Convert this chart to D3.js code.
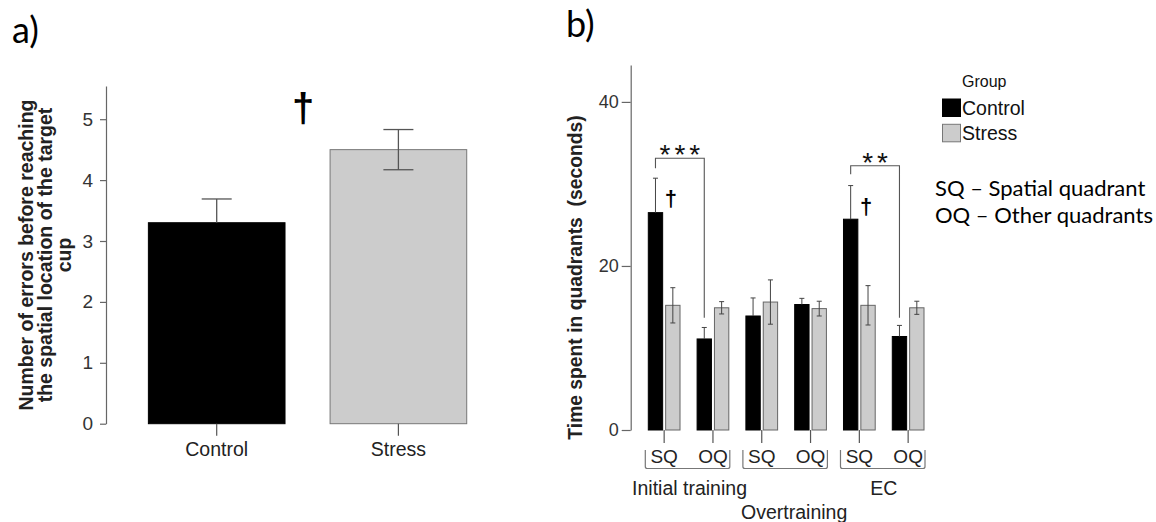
<!DOCTYPE html>
<html>
<head>
<meta charset="utf-8">
<script src="https://cdn.jsdelivr.net/npm/d3@7"></script>
<style>
  html, body { margin: 0; padding: 0; background: #fff; }
  svg { display: block; }
  text { font-family: "Liberation Sans", Arial, sans-serif; }
</style>
</head>
<body>
<svg id="chart" width="1156" height="522"></svg>
<script>
// ---------- Data ----------
// Panel a
const groupsA = ["Control", "Stress"];
const errorsMean = [3.3, 4.5];
const errorsSE = [0.39, 0.33];
const ticksA = [0, 1, 2, 3, 4, 5];

// Panel b
const phases = ["Initial training", "Overtraining", "EC"];
const quadrants = ["SQ", "OQ"];
const categoriesB = ["IT-SQ", "IT-OQ", "OT-SQ", "OT-OQ", "EC-SQ", "EC-OQ"];
const quadrantLabels = ["SQ", "OQ", "SQ", "OQ", "SQ", "OQ"];
const seriesB = ["Control", "Stress"];
const controlTime = [26.5, 11.1, 13.9, 15.3, 25.7, 11.4];
const controlSE = [4.2, 1.4, 2.2, 0.75, 4.1, 1.35];
const stressTime = [15.2, 14.9, 15.6, 14.8, 15.2, 14.9];
const stressSE = [2.15, 0.75, 2.7, 0.9, 2.4, 0.8];
const ticksB = [0, 20, 40];
const notesB = ["SQ \u2013 Spatial quadrant", "OQ \u2013 Other quadrants"];

const colors = { Control: "#000000", Stress: "#cccccc" };

const svg = d3.select("#chart");
svg.append("rect").attr("width", 1156).attr("height", 522).attr("fill", "#fff");

// ================= Panel a =================
const yA = d3.scaleLinear().domain([0, 5.545]).range([423.7, 86]);
const xA = d3.scaleBand().domain(groupsA).range([125.85, 489.25]).paddingInner(0.248).paddingOuter(0.124);

const gA = svg.append("g");

gA.append("text").attr("x", 12).attr("y", 43)
  .style("font-family", "Lato, 'Open Sans', sans-serif").style("font-size", "36px").attr("fill", "#000")
  .text("a)");

// y axis
const axA = gA.append("g").attr("transform", "translate(106,0)")
  .call(d3.axisLeft(yA).tickValues(ticksA).tickSize(6).tickSizeOuter(0).tickPadding(7).tickFormat(d3.format("d")));
axA.select(".domain").attr("stroke", "#666").attr("stroke-width", 1.2);
axA.selectAll(".tick line").attr("stroke", "#666").attr("stroke-width", 1.2);
axA.selectAll(".tick text").style("font-size", "19px").attr("fill", "#333");

// bars
gA.selectAll("rect.bar").data(groupsA).join("rect")
  .attr("x", d => xA(d)).attr("width", xA.bandwidth())
  .attr("y", (d, i) => yA(errorsMean[i]))
  .attr("height", (d, i) => yA(0) - yA(errorsMean[i]))
  .attr("fill", d => colors[d])
  .attr("stroke", (d) => d === "Control" ? "#000" : "#777").attr("stroke-width", 1);

// error bars
groupsA.forEach((g, i) => {
  const cx = xA(g) + xA.bandwidth() / 2;
  const lo = g === "Control" ? errorsMean[i] : errorsMean[i] - errorsSE[i];
  const hi = errorsMean[i] + errorsSE[i];
  const eb = gA.append("g").attr("stroke", "#555").attr("stroke-width", 1.3);
  eb.append("line").attr("x1", cx).attr("x2", cx).attr("y1", yA(lo)).attr("y2", yA(hi));
  eb.append("line").attr("x1", cx - 15).attr("x2", cx + 15).attr("y1", yA(hi)).attr("y2", yA(hi));
  if (g !== "Control") {
    eb.append("line").attr("x1", cx - 15).attr("x2", cx + 15).attr("y1", yA(lo)).attr("y2", yA(lo));
  }
});

// x axis (ticks only)
const axAx = gA.append("g").attr("transform", `translate(0,${yA(0)})`)
  .call(d3.axisBottom(xA).tickSize(12).tickSizeOuter(0).tickPadding(6));
axAx.select(".domain").remove();
axAx.selectAll(".tick line").attr("stroke", "#555").attr("stroke-width", 1.2);
axAx.selectAll(".tick text").style("font-size", "19.5px").attr("fill", "#222");

// y label
const ylabA = gA.append("text").attr("transform", "translate(45,255) rotate(-90)")
  .attr("text-anchor", "middle").style("font-size", "19.5px").style("font-weight", "bold").attr("fill", "#222");
["Number of errors before reaching", "the spatial location of the target", "cup"].forEach((t, i) => {
  ylabA.append("tspan").attr("x", 0).attr("y", (i - 1) * 18.6 + 7).text(t);
});

// dagger
gA.append("text").attr("x", 303).attr("y", 122).attr("text-anchor", "middle")
  .style("font-size", "40px").style("font-weight", "bold").attr("fill", "#000").text("\u2020");

// ================= Panel b =================
const yB = d3.scaleLinear().domain([0, 44.5]).range([430, 65]);
const xB = d3.scaleBand().domain(categoriesB).range([640, 932.3]).paddingInner(0.35).paddingOuter(0.17);
const xSub = d3.scaleBand().domain(seriesB).range([0, xB.bandwidth()]).paddingInner(0.173).paddingOuter(0);

const gB = svg.append("g");

gB.append("text").attr("x", 566).attr("y", 37)
  .style("font-family", "Lato, 'Open Sans', sans-serif").style("font-size", "36px").attr("fill", "#000")
  .text("b)");

const axB = gB.append("g").attr("transform", "translate(630.7,0)")
  .call(d3.axisLeft(yB).tickValues(ticksB).tickSize(9).tickSizeOuter(0).tickPadding(3));
axB.select(".domain").attr("stroke", "#666").attr("stroke-width", 1.2);
axB.selectAll(".tick line").attr("stroke", "#666").attr("stroke-width", 1.2);
axB.selectAll(".tick text").style("font-size", "18px").attr("fill", "#333");

// bars
const barsData = [];
categoriesB.forEach((c, i) => {
  barsData.push({ cat: c, s: "Control", v: controlTime[i], e: controlSE[i] });
  barsData.push({ cat: c, s: "Stress", v: stressTime[i], e: stressSE[i] });
});
gB.selectAll("rect.barb").data(barsData).join("rect")
  .attr("x", d => xB(d.cat) + xSub(d.s)).attr("width", xSub.bandwidth())
  .attr("y", d => yB(d.v)).attr("height", d => yB(0) - yB(d.v))
  .attr("fill", d => colors[d.s])
  .attr("stroke", d => d.s === "Control" ? "#000" : "#666").attr("stroke-width", 1);

barsData.forEach(d => {
  const cx = xB(d.cat) + xSub(d.s) + xSub.bandwidth() / 2;
  const hi = d.v + d.e;
  const lo = d.s === "Control" ? d.v : d.v - d.e;
  const eb = gB.append("g").attr("stroke", "#444").attr("stroke-width", 1);
  eb.append("line").attr("x1", cx).attr("x2", cx).attr("y1", yB(lo)).attr("y2", yB(hi));
  eb.append("line").attr("x1", cx - 2.5).attr("x2", cx + 2.5).attr("y1", yB(hi)).attr("y2", yB(hi));
  if (d.s !== "Control") eb.append("line").attr("x1", cx - 2.5).attr("x2", cx + 2.5).attr("y1", yB(lo)).attr("y2", yB(lo));
});

// x ticks
const axBx = gB.append("g").attr("transform", `translate(0,${yB(0)})`)
  .call(d3.axisBottom(xB).tickSize(13).tickSizeOuter(0).tickPadding(7).tickFormat((d, i) => quadrantLabels[i]));
axBx.select(".domain").remove();
axBx.selectAll(".tick line").attr("stroke", "#555").attr("stroke-width", 1.2);
axBx.selectAll(".tick text").style("font-size", "19px").attr("fill", "#222");

// phase brackets
phases.forEach((p, k) => {
  const c0 = categoriesB[k * 2], c1 = categoriesB[k * 2 + 1];
  const left = xB(c0) - 3, right = xB(c1) + xB.bandwidth() + 1;
  const top = 450, bot = 468.5;
  gB.append("path")
    .attr("d", `M${left},${top} L${left},${bot - 2} Q${left},${bot} ${left + 2},${bot} L${right - 2},${bot} Q${right},${bot} ${right},${bot - 2} L${right},${top}`)
    .attr("fill", "none").attr("stroke", "#777").attr("stroke-width", 1.2);
});
// phase labels
const phaseMid = k => (xB(categoriesB[k * 2]) + xB(categoriesB[k * 2 + 1]) + xB.bandwidth()) / 2;
gB.append("text").attr("x", phaseMid(0) + 1).attr("y", 495).attr("text-anchor", "middle")
  .style("font-size", "19.5px").attr("fill", "#222").text(phases[0]);
gB.append("text").attr("x", phaseMid(1) + 8).attr("y", 519).attr("text-anchor", "middle")
  .style("font-size", "19.5px").attr("fill", "#222").text(phases[1]);
gB.append("text").attr("x", phaseMid(2)).attr("y", 495).attr("text-anchor", "middle")
  .style("font-size", "19.5px").attr("fill", "#222").text(phases[2]);

// y label
gB.append("text").attr("transform", "translate(582,277.5) rotate(-90)")
  .attr("text-anchor", "middle").style("font-size", "19.3px").style("font-weight", "bold")
  .style("white-space", "pre").attr("fill", "#222").text("Time spent in quadrants  (seconds)");

// significance brackets
function sigBracket(cA, cB, yTop, leftLen, rightVal, stars) {
  const xL = xB(cA) + xSub("Control") + xSub.bandwidth() / 2;
  const xR = xB(cB) + xSub("Control") + xSub.bandwidth() / 2;
  gB.append("path")
    .attr("d", `M${xL},${yTop + leftLen} L${xL},${yTop} L${xR},${yTop} L${xR},${yB(rightVal)}`)
    .attr("fill", "none").attr("stroke", "#555").attr("stroke-width", 1.1);
  gB.append("text").attr("x", (xL + xR) / 2 + 2).attr("y", yTop + 6).attr("text-anchor", "middle")
    .style("font-size", "28px").style("letter-spacing", "4px").attr("fill", "#111").text(stars);
}
sigBracket(categoriesB[0], categoriesB[1], 158.3, 10, 13.7, "***");
sigBracket(categoriesB[4], categoriesB[5], 165.7, 8.5, 13.7, "**");

// daggers in b
[0, 4].forEach(i => {
  const cx = xB(categoriesB[i]) + xSub("Stress") + xSub.bandwidth() / 2 - 2;
  const yTop = yB(controlTime[i] + controlSE[i]);
  gB.append("text").attr("x", cx).attr("y", yTop + 28).attr("text-anchor", "middle")
    .style("font-size", "22px").style("font-weight", "bold").attr("fill", "#000").text("\u2020");
});

// legend
const lg = svg.append("g");
lg.append("text").attr("x", 962).attr("y", 87).style("font-size", "16px").attr("fill", "#111").text("Group");
seriesB.forEach((s, i) => {
  const y0 = 99 + i * 25.3;
  lg.append("rect").attr("x", 942.5).attr("y", y0).attr("width", 18).attr("height", 17.5)
    .attr("fill", colors[s]).attr("stroke", s === "Control" ? "#000" : "#777").attr("stroke-width", 1);
  lg.append("text").attr("x", 962).attr("y", y0 + 16).style("font-size", "19.5px").attr("fill", "#111").text(s);
});
notesB.forEach((t, i) => {
  lg.append("text").attr("x", 935).attr("y", 196 + i * 27)
    .style("font-family", "Lato, 'Open Sans', sans-serif").style("font-size", "22px").attr("fill", "#000").text(t);
});
</script>
</body>
</html>
